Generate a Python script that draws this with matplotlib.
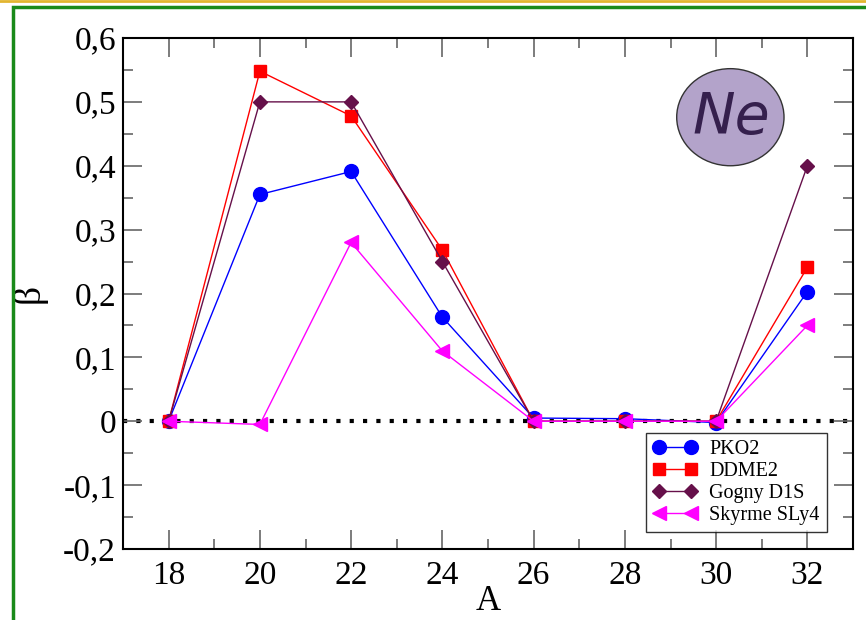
import numpy as np
import matplotlib
matplotlib.use('Agg')
import matplotlib.pyplot as plt
from matplotlib.patches import Ellipse, Rectangle
from matplotlib.lines import Line2D
from matplotlib.ticker import MultipleLocator, FuncFormatter

# data
A = [18, 20, 22, 24, 26, 28, 30, 32]
pko2 = [0.0, 0.355, 0.391, 0.163, 0.005, 0.004, -0.002, 0.203]
ddme2 = [0.0, 0.548, 0.478, 0.268, 0.0, 0.0, 0.0, 0.241]
gogny = [0.0, 0.500, 0.500, 0.250, 0.0, 0.0, 0.0, 0.400]
skyrme = [0.0, -0.005, 0.280, 0.110, 0.0, 0.0, 0.0, 0.150]
labels = ['PKO2', 'DDME2', 'Gogny D1S', 'Skyrme SLy4']

plt.rcParams['font.family'] = ['Liberation Serif', 'DejaVu Serif']

fig = plt.figure(figsize=(8.66, 6.2), dpi=100)
ax = fig.add_axes([123/866, 71/620, 730/866, 511/620])

# frame around the picture
fig.patches.append(Rectangle((13/866, -0.1), 2, 1.1 - 7/620, transform=fig.transFigure,
                             fill=False, edgecolor='#1a8a1a', linewidth=2.5))
fig.lines.append(Line2D([0, 1], [1 - 0.8/620, 1 - 0.8/620], transform=fig.transFigure,
                        color='#e2b530', linewidth=2))

ax.axhline(0, color='black', linestyle=(0, (1, 2.2)), linewidth=3, zorder=1)

ax.plot(A, pko2, color='#0000ff', marker='o', markersize=10, linewidth=1.0, label=labels[0], zorder=3)
ax.plot(A, ddme2, color='#ff0000', marker='s', markersize=8, linewidth=1.0, label=labels[1], zorder=4)
ax.plot(A, gogny, color='#66104a', marker='D', markersize=7, linewidth=1.0, label=labels[2], zorder=5)
ax.plot(A, skyrme, color='#ff00ff', marker='<', markersize=10, linewidth=1.0, label=labels[3], zorder=6)

ax.set_xlim(17, 33)
ax.set_ylim(-0.2, 0.6)
ax.xaxis.set_major_locator(MultipleLocator(2))
ax.xaxis.set_minor_locator(MultipleLocator(1))
ax.yaxis.set_major_locator(MultipleLocator(0.1))
ax.yaxis.set_minor_locator(MultipleLocator(0.05))

def comma(v, pos):
    if abs(v) < 1e-9:
        return '0'
    return ('%.1f' % v).replace('.', ',')

ax.yaxis.set_major_formatter(FuncFormatter(comma))
ax.tick_params(which='both', direction='in', top=True, right=True, color='#666666',
               labelsize=24, pad=5)
ax.tick_params(axis='x', pad=8)
ax.tick_params(which='major', length=14, width=1.2)
ax.tick_params(which='minor', length=7, width=1.2)
for s in ax.spines.values():
    s.set_linewidth(1.5)

ax.set_xlabel('A', fontsize=25, labelpad=-4)
ax.set_ylabel('β', fontsize=27, labelpad=12)

ell = Ellipse((0.832, 0.845), 0.147, 0.19, transform=ax.transAxes,
              facecolor='#b3a3ca', edgecolor='#333333', linewidth=1, zorder=7)
ax.add_patch(ell)
ax.text(0.834, 0.843, 'Ne', transform=ax.transAxes, ha='center', va='center',
        fontsize=41, style='italic', color='#35204d', family='DejaVu Sans', zorder=8)

leg = ax.legend(loc='lower right', bbox_to_anchor=(0.964, 0.033), borderaxespad=0,
                fontsize=14.5, frameon=True, fancybox=False, edgecolor='black',
                handlelength=2.2, handletextpad=0.6, borderpad=0.35, labelspacing=0.15,
                numpoints=2)
leg.get_frame().set_linewidth(1)

plt.savefig('out.png', dpi=100)
